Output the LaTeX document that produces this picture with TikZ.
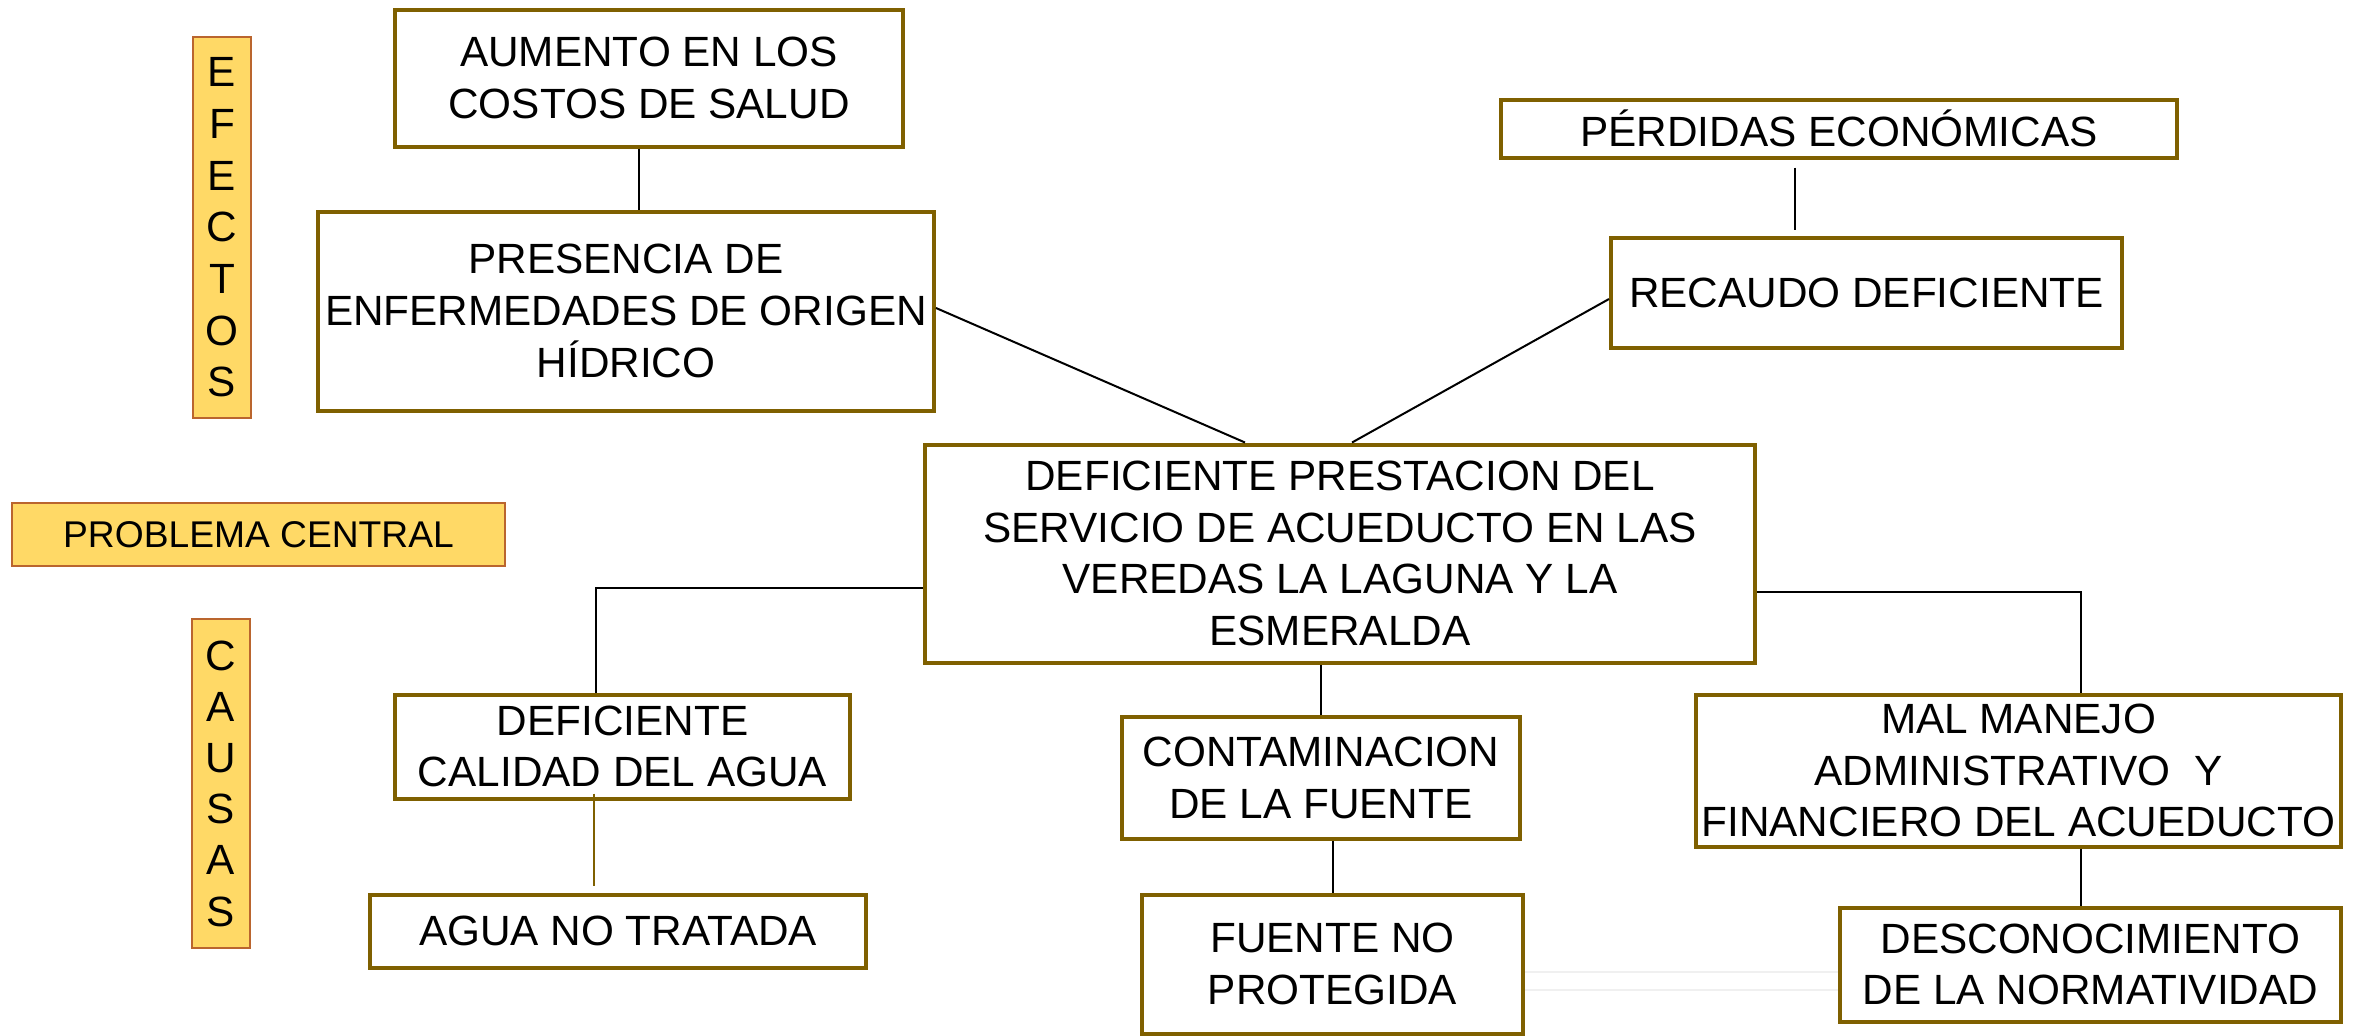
\documentclass[tikz,border=0pt]{standalone}
\usepackage{fontspec}
\setmainfont{Liberation Sans}
\definecolor{boxc}{HTML}{7F6000}
\definecolor{lblc}{HTML}{BA652E}
\definecolor{lblf}{HTML}{FFD966}
\newcommand{\mainf}{\fontsize{21.15pt}{25.8pt}\selectfont}
\newcommand{\smallf}{\fontsize{18.6pt}{22pt}\selectfont}
\tikzset{
  box/.style={draw=boxc, line width=2pt, fill=white, align=center, inner sep=0pt, font=\mainf},
  lbl/.style={draw=lblc, fill=lblf, line width=1pt, align=center, inner sep=0pt},
  conn/.style={line width=1pt, black},
  faint/.style={line width=1pt, black!6}
}
\begin{document}
\begin{tikzpicture}[x=0.5pt, y=-0.5pt]
\useasboundingbox (0,0) rectangle (2361,1035);
% labels
\node[lbl, minimum width=29pt, minimum height=190.5pt, font=\fontsize{21.15pt}{25.85pt}\selectfont] (efe) at (222,227.5) {E\\F\\E\\C\\T\\O\\S};
\node[lbl, minimum width=29pt, minimum height=164.5pt, font=\fontsize{21.15pt}{25.6pt}\selectfont] (cau) at (221,783.5) {C\\A\\U\\S\\A\\S};
\node[lbl, minimum width=246.5pt, minimum height=31.5pt, font=\smallf] (pro) at (258.5,534.5) {PROBLEMA CENTRAL};
% boxes
\node[box, minimum width=254pt, minimum height=68.5pt] (aum) at (649,78) {AUMENTO EN LOS\\COSTOS DE SALUD};
\node[box, minimum width=308pt, minimum height=99.5pt] (pres) at (626,311) {PRESENCIA DE\\ENFERMEDADES DE ORIGEN\\HÍDRICO};
\node[box, minimum width=338pt, minimum height=29pt] (perd) at (1839,128.5) {PÉRDIDAS ECONÓMICAS};
\node[box, minimum width=255.5pt, minimum height=55pt] (rec) at (1866.5,292.5) {RECAUDO DEFICIENTE};
\node[box, minimum width=415pt, minimum height=109pt] (cen) at (1340,553.5) {DEFICIENTE PRESTACION DEL\\SERVICIO DE ACUEDUCTO EN LAS\\VEREDAS LA LAGUNA Y LA\\ESMERALDA};
\node[box, minimum width=227.5pt, minimum height=52pt] (cal) at (622.5,746.5) {DEFICIENTE\\CALIDAD DEL AGUA};
\node[box, minimum width=248pt, minimum height=36.5pt] (agua) at (618,931) {AGUA NO TRATADA};
\node[box, minimum width=199pt, minimum height=61pt] (cont) at (1321,778) {CONTAMINACION\\DE LA FUENTE};
\node[box, minimum width=190.5pt, minimum height=69.5pt] (fue) at (1332.5,964) {FUENTE NO\\PROTEGIDA};
\node[box, minimum width=322.5pt, minimum height=76pt] (mal) at (2018.5,770.5) {MAL MANEJO\\ADMINISTRATIVO\ \ Y\\FINANCIERO DEL ACUEDUCTO};
\node[box, minimum width=250.5pt, minimum height=57pt] (desc) at (2090.5,964.5) {DESCONOCIMIENTO\\DE LA NORMATIVIDAD};
% faint background lines
\draw[faint] ([yshift=-4pt]fue.east) -- ([yshift=-4pt]fue.east -| desc.west);
\draw[faint] ([yshift=-13pt]fue.east) -- ([yshift=-13pt]fue.east -| desc.west);
% connectors
\draw[conn] ([xshift=-5pt]aum.south) -- ([xshift=-5pt]aum.south |- pres.north);
\draw[conn] ([yshift=1.5pt]pres.east) -- ([xshift=-47.5pt]cen.north);
\draw[conn] ([yshift=-3.25pt]rec.west) -- ([xshift=6pt]cen.north);
\draw[conn] ([xshift=-22pt,yshift=-4pt]perd.south) -- ([xshift=-22pt,yshift=3pt]perd.south |- rec.north);
\draw[conn] ([yshift=-17.25pt]cen.west) -| ([xshift=-13.25pt]cal.north);
\draw[boxc, line width=1pt, shorten >=3.5pt] ([xshift=-14.25pt,yshift=3.5pt]cal.south) -- ([xshift=-14.25pt]cal.south |- agua.north);
\draw[conn] (cont.north) -- (cont.north |- cen.south);
\draw[conn] (fue.north) -- (fue.north |- cont.south);
\draw[conn] ([yshift=-19.25pt]cen.east) -| ([xshift=31.25pt]mal.north);
\draw[conn] ([xshift=31.25pt]mal.south) -- ([xshift=31.25pt]mal.south |- desc.north);
\end{tikzpicture}
\end{document}
